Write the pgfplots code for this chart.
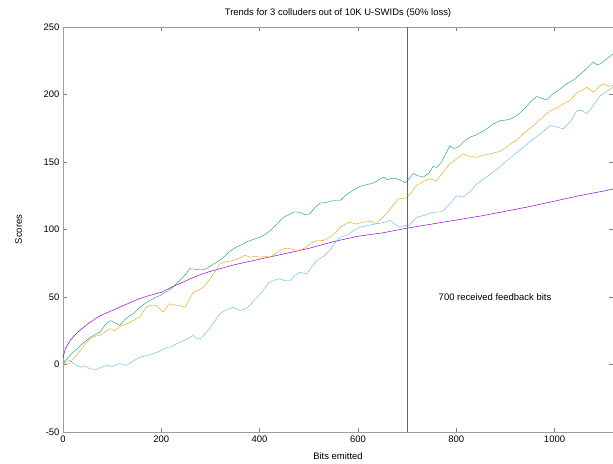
\documentclass[border=0pt]{standalone}
\usepackage{pgfplots}
\pgfplotsset{compat=1.18}
\usepackage{fontspec}
\setmainfont{Liberation Sans}
\definecolor{gpPurple}{HTML}{9400D3}
\definecolor{gpGreen}{HTML}{009E73}
\definecolor{gpBlue}{HTML}{56B4E9}
\definecolor{gpOrange}{HTML}{E69F00}
\begin{document}
\begin{tikzpicture}
\begin{axis}[
  scale only axis, width=550bp, height=405bp,
  xmin=0, xmax=1119, ymin=-50, ymax=250,
  xtick={0,200,400,600,800,1000}, ytick={-50,0,50,100,150,200,250},
  tick align=inside, major tick length=4bp,
  axis line style={black!38, line width=0.9pt},
  tick style={black!50, line width=0.5pt},
  every tick label/.append style={font=\fontsize{9.5}{11}\selectfont},
  /pgf/number format/assume math mode=true,
  /pgf/number format/set thousands separator={},
  xlabel={Bits emitted}, ylabel={Scores},
  ylabel shift=15bp, xlabel shift=4bp,
  label style={font=\fontsize{9.5}{11}\selectfont},
  title={Trends for 3 colluders out of 10K U-SWIDs (50\% loss)},
  title style={font=\fontsize{9.5}{11}\selectfont},
  clip=true,
]
\addplot[gpPurple, line width=0.5pt] coordinates {
(0,5) (5,12) (15,18) (30,24) (50,30) (75,36) (100,40) (125,44) (150,48) (175,51) (200,53.5) (225,58) (250,62) (275,66) (300,69) (325,71.5) (350,74) (375,76) (400,78) (450,82) (500,86) (550,91) (600,95) (650,97.5) (700,101) (750,104) (800,107) (850,110) (900,113.5) (950,117) (1000,121) (1050,125) (1100,128.5) (1119,130)
};
\addplot[gpGreen, line width=0.4pt] coordinates {
(0,1) (5,3) (10,5) (20,9) (30,12) (35,14) (45,17) (55,20) (65,22) (75,24) (85,29) (96,32.5) (105,31) (116,29) (125,33) (135,36) (143,37.5) (155,42) (170,46) (180,48) (190,50) (197,51) (210,54) (220,56) (231,60) (240,63) (250,67) (258,71) (270,70.5) (280,70) (292,71) (300,73) (313,75.8) (325,79) (340,84) (353,87) (365,89) (375,91) (390,93) (401,94.3) (410,96) (421,99) (435,104) (448,109) (460,111) (470,113) (482,112.8) (492,111) (502,111.6) (512,116) (523,119.5) (535,120) (545,121) (554,121.5) (564,121.5) (574,125) (584,127.6) (595,130) (605,132) (615,133) (625,133.8) (635,135) (645,137.5) (652,138.8) (660,137) (670,138) (679,137.5) (690,136) (696,134.6) (705,138) (713,141.5) (720,140) (733,138.8) (745,142) (753,146.7) (760,146) (770,150) (780,157) (787,162) (795,160) (804,161) (815,165) (828,168.4) (840,170) (850,172) (862,174.6) (875,178) (889,180.7) (900,181) (912,182) (923,184.4) (935,188) (945,192) (955,196) (964,198.5) (975,197) (984,196) (995,200) (1011,204) (1025,208) (1040,211) (1052,215) (1065,219) (1079,224) (1086,222) (1093,222.7) (1105,226) (1119,230)
};
\addplot[gpBlue, line width=0.4pt] coordinates {
(0,0.7) (7,2) (14,3) (25,0) (35,-2) (45,-1) (55,-3.2) (68,-3.7) (78,-2) (89,-0.7) (100,-1.5) (116,0.7) (129,-0.7) (140,2) (156,5.4) (170,6.5) (184,8) (198,10) (211,12.8) (220,13) (231,15.3) (248,18) (265,21.5) (272,19) (279,19) (292,24) (305,30) (319,37.5) (330,40) (346,42.5) (360,40) (370,41) (380,43.7) (390,48) (401,52) (411,57) (421,61) (431,62.5) (441,63.5) (452,62) (462,62) (472,66) (482,68.4) (496,67) (505,72) (516,77) (530,80) (543,84.4) (553,90) (564,94.3) (577,95.6) (590,99) (604,101.7) (620,103) (638,104.2) (650,105) (665,106.7) (675,104) (686,101.7) (695,103) (703,103) (712,106) (719,109) (730,110) (740,111) (753,112.8) (765,113) (774,114) (787,119) (801,125) (814,124) (828,128) (842,133.8) (858,138) (875,142.5) (890,147) (903,151) (913,154) (923,157) (940,162) (957,167) (975,172) (991,177) (1005,176) (1018,174.6) (1032,180) (1046,188) (1056,188) (1066,185.7) (1079,192) (1093,199) (1105,202) (1119,205.4)
};
\addplot[gpOrange, line width=0.4pt] coordinates {
(0,2) (7,0) (14,1) (25,6) (35,10) (45,15) (55,19) (65,21) (75,21.5) (85,24) (96,26.6) (105,25) (115,28) (129,30) (140,32) (156,35) (165,40) (170,42.5) (180,44) (190,43.7) (198,41) (204,38.8) (210,42) (217,45) (228,44) (238,43.7) (248,42.5) (257,48) (265,53.6) (275,55) (285,57) (292,60) (299,63.5) (310,69) (319,74.6) (330,76) (346,77) (360,79) (370,81) (380,79.5) (390,80) (401,79.5) (410,80) (421,79.5) (435,83) (448,85.7) (460,86) (470,85) (482,84.4) (495,87) (505,90) (516,91.8) (530,92) (543,94.3) (555,98) (564,101.7) (575,104) (584,105.4) (595,104) (611,105.4) (625,106) (638,104.2) (648,108) (659,112) (670,117) (682,122.7) (690,123) (699,123.4) (710,128) (719,132.6) (726,133.8) (735,136) (746,137.5) (760,136) (770,141) (787,148.6) (800,152) (814,156) (828,154) (842,153.5) (855,155) (875,156.5) (890,158) (903,161) (913,164) (923,166) (940,172) (957,177) (975,183) (991,188) (1005,190) (1018,193) (1032,195.6) (1046,201.7) (1056,203) (1066,205.4) (1079,201.7) (1089,205) (1099,208) (1110,206) (1119,206.7)
};
\addplot[black!60, line width=0.7pt] coordinates {(700,-50) (700,250)};
\node[font=\fontsize{9.5}{11}\selectfont] at (axis cs:879,50) {700 received feedback bits};
\end{axis}
\pgfresetboundingbox
\useasboundingbox ([shift={(-63bp,-32bp)}]current axis.south west) rectangle ([shift={(0bp,27bp)}]current axis.north east);
\end{tikzpicture}
\end{document}
